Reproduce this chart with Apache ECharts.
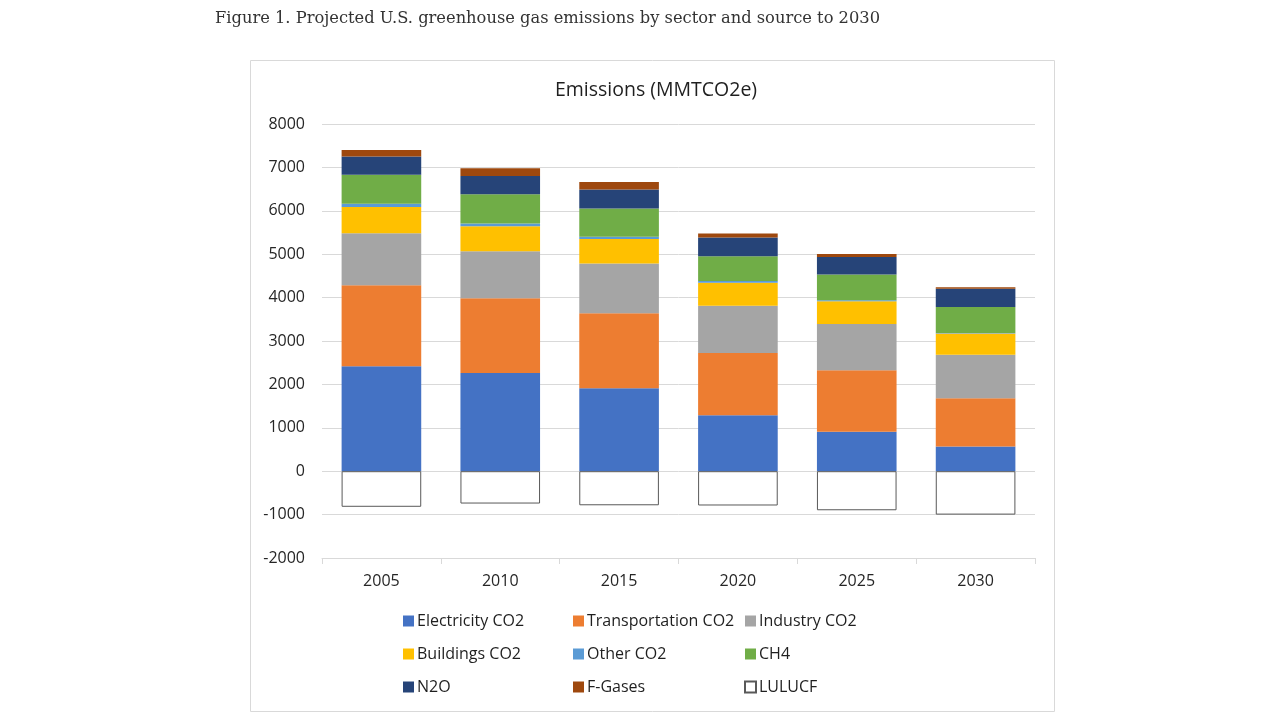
<!DOCTYPE html>
<html>
<head>
<meta charset="utf-8">
<script src="https://cdn.jsdelivr.net/npm/echarts@6/dist/echarts.min.js"></script>
<style>
  html, body { margin: 0; padding: 0; background: #fff; }
  #chart { width: 1280px; height: 720px; }
</style>
</head>
<body>
<div id="chart"></div>
<script>
// years on the x axis
const years = ["2005", "2010", "2015", "2020", "2025", "2030"];

// values, MMTCO2e
const electricity = [2420, 2260, 1910, 1290, 910, 570];
const transportation = [1865, 1725, 1730, 1435, 1415, 1110];
const industry = [1200, 1085, 1145, 1085, 1065, 1005];
const buildings = [600, 575, 565, 530, 525, 485];
const otherCO2 = [75, 60, 50, 40, 25, 15];
const ch4 = [670, 675, 655, 575, 590, 600];
const n2o = [420, 420, 435, 430, 405, 420];
const fGases = [150, 180, 175, 90, 70, 35];
const lulucf = [-820, -745, -785, -790, -900, -1000];

const yTicks = { min: -2000, max: 8000, interval: 1000 };

const seriesDefs = [
  ["Electricity CO2", electricity, "#4472C4"],
  ["Transportation CO2", transportation, "#ED7D31"],
  ["Industry CO2", industry, "#A5A5A5"],
  ["Buildings CO2", buildings, "#FFC000"],
  ["Other CO2", otherCO2, "#5B9BD5"],
  ["CH4", ch4, "#70AD47"],
  ["N2O", n2o, "#264478"],
  ["F-Gases", fGases, "#9E480E"],
  ["LULUCF", lulucf, "#FFFFFF"]
];

const font = "'Open Sans', 'Noto Sans', sans-serif";

var myChart = echarts.init(document.getElementById("chart"));

var series = seriesDefs.map(function (d) {
  var s = {
    name: d[0],
    type: "bar",
    stack: "total",
    barWidth: "67%",
    data: d[1],
    itemStyle: { color: d[2] }
  };
  if (d[0] === "LULUCF") {
    s.itemStyle = { color: "#FFFFFF", borderColor: "#595959", borderWidth: 1 };
  }
  return s;
});

function legendCol(left, names) {
  return {
    orient: "vertical",
    left: left,
    top: 608,
    itemWidth: 11,
    itemHeight: 11,
    itemGap: 17,
    icon: "rect",
    selectedMode: false,
    data: names,
    textStyle: { fontFamily: font, fontSize: 16, color: "#1f1f1f", padding: [0, 0, 0, -2] }
  };
}

var option = {
  animation: false,
  title: {
    text: "Emissions (MMTCO2e)",
    left: 651,
    textAlign: "center",
    top: 75,
    textStyle: { fontFamily: font, fontSize: 19.5, fontWeight: "normal", color: "#1f1f1f" }
  },
  graphic: [
    {
      type: "rect",
      shape: { x: 250.5, y: 60.5, width: 804, height: 651 },
      style: { fill: "none", stroke: "#D9D9D9", lineWidth: 1 },
      z: -1
    },
    {
      type: "text",
      left: 215,
      top: 11,
      style: {
        text: "Figure 1. Projected U.S. greenhouse gas emissions by sector and source to 2030",
        font: "16.3px 'DejaVu Serif', 'Liberation Serif', serif",
        fill: "#333333"
      }
    }
  ],
  legend: [
    legendCol(398, ["Electricity CO2", "Buildings CO2", "N2O"]),
    legendCol(568, ["Transportation CO2", "Other CO2", "F-Gases"]),
    legendCol(739, ["Industry CO2", "CH4", "LULUCF"])
  ],
  grid: { left: 322, right: 245, top: 124, bottom: 162 },
  xAxis: {
    type: "category",
    data: years,
    axisLine: { onZero: false, lineStyle: { color: "#D9D9D9" } },
    axisTick: { show: true, length: 6, lineStyle: { color: "#D9D9D9" } },
    axisLabel: { fontFamily: font, fontSize: 16, color: "#262626", margin: 15 }
  },
  yAxis: {
    type: "value",
    min: yTicks.min,
    max: yTicks.max,
    interval: yTicks.interval,
    axisLine: { show: false },
    axisTick: { show: false },
    splitLine: { lineStyle: { color: "#D9D9D9" } },
    axisLabel: {
      fontFamily: font,
      fontSize: 16,
      color: "#262626",
      margin: 17,
      formatter: function (v) { return String(v); }
    }
  },
  series: series
};

myChart.setOption(option);
</script>
</body>
</html>
